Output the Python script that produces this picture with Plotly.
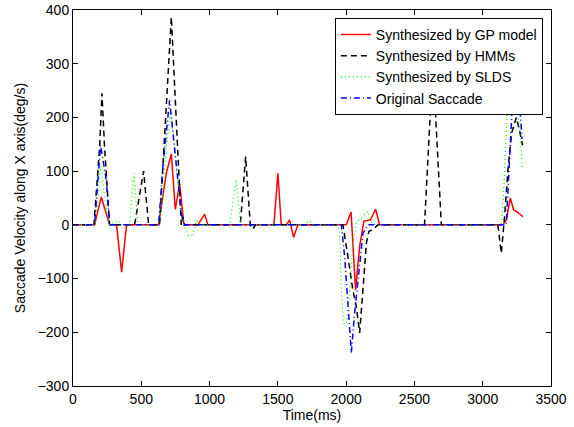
import plotly.graph_objects as go

# Time (ms) / velocity (deg/s) samples
gp_t = [0, 158, 207, 268, 319, 356, 392, 627, 683, 720, 749, 781, 812, 915, 964, 988,
        1471, 1500, 1525, 1562, 1586, 1615, 1647, 2001, 2036, 2069, 2099, 2130, 2177, 2216, 2245,
        3148, 3173, 3202, 3226, 3258, 3294]
gp_v = [0, 0, 52, 0, 0, -88, 0, 0, 96, 132, 29, 77, 0, 0, 20, 0,
        0, 96, 0, 0, 9, -23, 0, 0, 24, -121, -40, 7, 9, 29, 0,
        0, 9, 50, 28, 23, 15]

hmm_t = [0, 153, 195, 212, 231, 268, 451, 517, 554, 634, 720, 793, 805, 817,
         1225, 1264, 1298, 1317, 1337, 1976, 2013, 2049, 2074, 2099, 2123, 2148, 2167, 2196, 2233,
         2574, 2635, 2697, 3111, 3136, 3160, 3184, 3211, 3246, 3270, 3292]
hmm_v = [0, 0, 145, 245, 145, 0, 0, 100, 0, 0, 387, 0, 15, 0,
         0, 127, 0, -8, 0, 0, -59, -121, -152, -201, -121, -34, -12, -9, 0,
         0, 300, 0, 0, -53, 15, 100, 170, 200, 175, 148]

slds_t = [0, 158, 180, 202, 239, 268, 327, 356, 414, 446, 475, 627, 656, 685, 715, 744, 773, 810,
          846, 876, 905, 927, 1122, 1147, 1169, 1196, 1227, 1696, 1732, 1762,
          1937, 1952, 1965, 1980, 2001, 2025, 2047, 2076, 2120, 2157, 2187, 2216,
          3136, 3153, 3168, 3184, 3218, 3247, 3270, 3292]
slds_v = [0, 0, 40, 110, 40, 0, 9, 0, 0, 96, 0, 0, 50, 150, 215, 150, 60, 0,
          -20, -18, 8, 0, 0, -4, 40, 84, 0, 0, 8, 0,
          0, -15, -121, -183, -190, -130, -40, 5, 15, 25, 5, 0,
          0, 60, 150, 245, 270, 230, 180, 105]

orig_t = [0, 158, 182, 202, 244, 268, 627, 658, 707, 756, 793, 812,
          1965, 1989, 2013, 2038, 2062, 2099, 2123, 2159,
          3173, 3184, 3202, 3221, 3240, 3270, 3288]
orig_v = [0, 0, 83, 148, 83, 0, 0, 108, 232, 108, 22, 0,
          0, -59, -152, -238, -164, -77, -16, 0,
          0, 59, 164, 245, 255, 226, 160]

x_ticks = [0, 500, 1000, 1500, 2000, 2500, 3000, 3500]
y_ticks = [-300, -200, -100, 0, 100, 200, 300, 400]

FONT = "Liberation Sans, Arial, Helvetica, sans-serif"

fig = go.Figure()
fig.add_trace(go.Scatter(x=gp_t, y=gp_v, mode="lines", name="Synthesized by GP model",
                         line=dict(color="#ff0000", width=1.5)))
fig.add_trace(go.Scatter(x=hmm_t, y=hmm_v, mode="lines", name="Synthesized by HMMs",
                         line=dict(color="#000000", width=1.5, dash="6px,4px")))
fig.add_trace(go.Scatter(x=slds_t, y=slds_v, mode="lines", name="Synthesized by SLDS",
                         line=dict(color="#00ff00", width=1.2, dash="1px,3px")))
fig.add_trace(go.Scatter(x=orig_t, y=orig_v, mode="lines", name="Original Saccade",
                         line=dict(color="#0000ff", width=1.5, dash="6px,3px,1px,3px")))

axis_common = dict(showgrid=False, zeroline=False, showline=True, linecolor="black",
                   linewidth=1, mirror="ticks", ticks="inside", ticklen=5,
                   tickcolor="black", automargin=False,
                   tickfont=dict(size=14, color="black", family=FONT))
fig.update_xaxes(range=[0, 3500], tickvals=x_ticks,
                 title=dict(text="Time(ms)", font=dict(size=14, color="black", family=FONT),
                            standoff=2),
                 **axis_common)
fig.update_yaxes(range=[-300, 400], tickvals=y_ticks,
                 title=dict(text="Saccade Velocity along X axis(deg/s)",
                            font=dict(size=14, color="black", family=FONT), standoff=8),
                 **axis_common)

fig.update_layout(
    width=574, height=427,
    margin=dict(l=73, r=23, t=10, b=41),
    paper_bgcolor="white", plot_bgcolor="white",
    font=dict(family=FONT, color="black", size=14),
    legend=dict(x=0.983, y=0.979, xanchor="right", yanchor="top",
                bgcolor="white", bordercolor="black", borderwidth=1,
                font=dict(size=14, family=FONT), tracegroupgap=0),
    showlegend=True,
)

fig.write_html("out.html", config={"displayModeBar": False},
               post_script="document.body.style.margin='0';document.body.style.overflow='hidden';")
